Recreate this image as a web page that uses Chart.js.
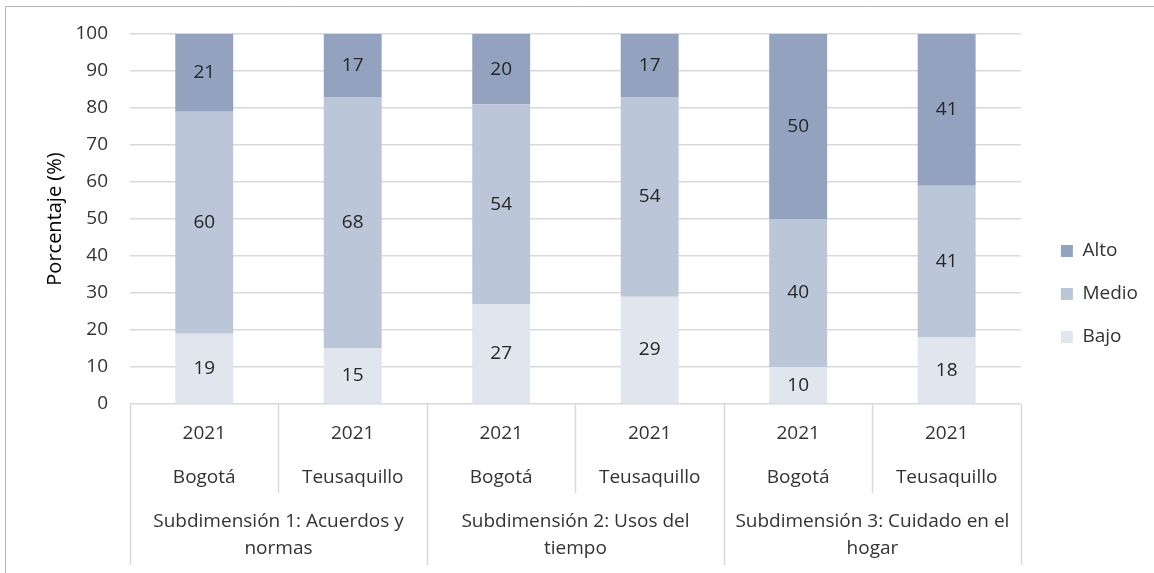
<!DOCTYPE html>
<html>
<head>
<meta charset="utf-8">
<script src="https://cdn.jsdelivr.net/npm/chart.js@4"></script>
<style>
  html, body { margin: 0; padding: 0; background: #ffffff; }
  #wrap { position: relative; width: 1154px; height: 573px; }
</style>
</head>
<body>
<div id="wrap"><canvas id="chart"></canvas></div>
<script>
// Bars: year + territory, grouped by subdimension
const barLabels = [
  ["2021", "Bogotá"], ["2021", "Teusaquillo"],
  ["2021", "Bogotá"], ["2021", "Teusaquillo"],
  ["2021", "Bogotá"], ["2021", "Teusaquillo"]
];
const groupLabels = [
  ["Subdimensión 1: Acuerdos y", "normas"],
  ["Subdimensión 2: Usos del", "tiempo"],
  ["Subdimensión 3: Cuidado en el", "hogar"]
];
const seriesNames = ["Bajo", "Medio", "Alto"];
const bajo  = [19, 15, 27, 29, 10, 18];
const medio = [60, 68, 54, 54, 40, 41];
const alto  = [21, 17, 20, 17, 50, 41];
const yTicks = [0, 10, 20, 30, 40, 50, 60, 70, 80, 90, 100];

const colors = { Bajo: "#e0e5ee", Medio: "#bcc6d9", Alto: "#93a3bf" };
const FONT = "'Open Sans', 'Noto Sans', sans-serif";
const FSIZE = 19;
const TEXT = "#333333";
const LINE = "#d9d9d9";

// Value labels centred in each visible segment
const segmentLabels = {
  id: "segmentLabels",
  afterDatasetsDraw(chart) {
    const { ctx, chartArea } = chart;
    ctx.save();
    ctx.font = FSIZE + "px " + FONT;
    ctx.fillStyle = "#262626";
    ctx.textAlign = "center";
    ctx.textBaseline = "middle";
    chart.data.datasets.forEach((ds, di) => {
      const meta = chart.getDatasetMeta(di);
      meta.data.forEach((bar, i) => {
        const top = Math.max(Math.min(bar.y, bar.base), chartArea.top);
        const bottom = Math.min(Math.max(bar.y, bar.base), chartArea.bottom);
        ctx.fillText(String(ds.data[i]), bar.x, (top + bottom) / 2);
      });
    });
    ctx.restore();
  }
};

// Category table under the plot: dividers, subdimension names, outer frame
const categoryFrame = {
  id: "categoryFrame",
  afterDraw(chart) {
    const { ctx, chartArea } = chart;
    const x = chart.scales.x;
    const n = barLabels.length;
    const step = (chartArea.right - chartArea.left) / n;
    const base = chartArea.bottom;
    ctx.save();
    ctx.strokeStyle = LINE;
    ctx.lineWidth = 1.5;
    for (let i = 0; i <= n; i++) {
      const px = Math.round(chartArea.left + i * step) + 0.5;
      const end = (i % 2 === 0) ? base + 161 : base + 89;
      ctx.beginPath();
      ctx.moveTo(px, base);
      ctx.lineTo(px, end);
      ctx.stroke();
    }
    ctx.font = FSIZE + "px " + FONT;
    ctx.fillStyle = TEXT;
    ctx.textAlign = "center";
    ctx.textBaseline = "middle";
    groupLabels.forEach((lines, g) => {
      const cx = (x.getPixelForValue(2 * g) + x.getPixelForValue(2 * g + 1)) / 2;
      lines.forEach((t, k) => ctx.fillText(t, cx, base + 118 + k * 27));
    });
    // outer frame
    ctx.strokeStyle = "#b4b4b4";
    ctx.lineWidth = 1;
    ctx.beginPath();
    ctx.moveTo(5.5, chart.height);
    ctx.lineTo(5.5, 6.5);
    ctx.lineTo(chart.width, 6.5);
    ctx.stroke();
    ctx.restore();
  }
};

const whiteBg = {
  id: "whiteBg",
  beforeDraw(chart) {
    const { ctx } = chart;
    ctx.save();
    ctx.fillStyle = "#ffffff";
    ctx.fillRect(0, 0, chart.width, chart.height);
    ctx.restore();
  }
};

const series = { Bajo: bajo, Medio: medio, Alto: alto };

new Chart(document.getElementById("chart"), {
  type: "bar",
  data: {
    labels: barLabels,
    datasets: seriesNames.map(name => ({
      label: name,
      data: series[name],
      backgroundColor: colors[name],
      borderWidth: 0,
      barPercentage: 0.39,
      categoryPercentage: 1,
      clip: 0
    }))
  },
  options: {
    responsive: true,
    maintainAspectRatio: false,
    animation: false,
    layout: { padding: { top: 34, bottom: 19, left: 0, right: 6 } },
    plugins: {
      tooltip: { enabled: false },
      legend: {
        position: "right",
        reverse: true,
        labels: {
          font: { family: FONT, size: FSIZE },
          color: TEXT,
          boxWidth: 12,
          boxHeight: 12,
          padding: 24
        }
      }
    },
    scales: {
      x: {
        stacked: true,
        position: "bottom",
        grid: { display: false, drawTicks: false },
        border: { display: false },
        ticks: {
          autoSkip: false,
          maxRotation: 0,
          padding: 8,
          color: TEXT,
          font: { family: FONT, size: FSIZE, lineHeight: "44px" }
        },
        afterFit(s) { s.height = 150; }
      },
      y: {
        stacked: true,
        min: 0,
        max: 100,
        afterBuildTicks(s) { s.ticks = yTicks.map(v => ({ value: v })); },
        grid: { color: LINE, lineWidth: 1.5, drawTicks: false },
        border: { display: false },
        ticks: {
          padding: 22,
          color: TEXT,
          font: { family: FONT, size: FSIZE }
        },
        title: {
          display: true,
          text: "Porcentaje (%)",
          color: "#000000",
          font: { family: FONT, size: 20, weight: "normal" },
          padding: { top: 43, bottom: 0 }
        },
        afterFit(s) { s.width = 130; }
      },
      gap: {
        type: "linear",
        position: "right",
        display: true,
        grid: { display: false, drawTicks: false },
        border: { display: false },
        ticks: { display: false },
        afterFit(s) { s.width = 16; }
      }
    }
  },
  plugins: [whiteBg, segmentLabels, categoryFrame]
});
</script>
</body>
</html>
